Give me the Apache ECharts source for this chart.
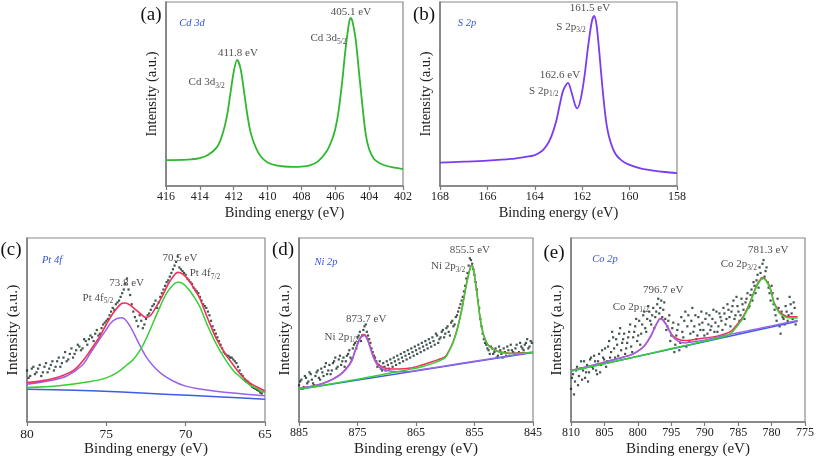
<!DOCTYPE html>
<html><head><meta charset="utf-8">
<script src="https://cdn.jsdelivr.net/npm/echarts@6/dist/echarts.min.js"></script>
<style>html,body{margin:0;padding:0;background:#fff}#c{width:817px;height:458px}</style>
</head><body><div id="c"></div><script>
// ---------- Panel (a) Cd 3d ----------
const aX = [416,415,414.5,414,413.5,413,412.7,412.4,412.2,412.0,411.8,411.6,411.4,411.2,411.0,410.7,410.4,410,409.5,409,408.5,408,407.5,407,406.5,406.2,406,405.8,405.6,405.4,405.2,405.1,405.0,404.8,404.6,404.4,404.2,404,403.7,403.4,403,402.5,402];
const aY = [14.1,14.2,14.5,15.2,17,21,27,38,50,62,68.5,64,52,39,29,21,16,12.8,11.2,10.6,10.4,10.5,11.2,13.5,19,25,31,41,56,74,88,91.3,90,80,62,44,28,20,14.5,12.5,11,10,9.2];
// ---------- Panel (b) S 2p ----------
const bX = [168,167,166,165,164.5,164,163.7,163.5,163.3,163.1,162.95,162.8,162.6,162.45,162.3,162.2,162.05,161.9,161.75,161.6,161.5,161.4,161.28,161.15,161.0,160.85,160.6,160.3,160,159.5,159,158.5,158];
const bY = [12.7,13.2,13.8,14.7,15.6,16.8,19,22,27,35,44,52,56,51,44,42.2,48,60,76,89,92.4,88,73,54,36,26,17.5,13.5,11.5,9.5,8.4,7.6,7.0];
// ---------- Panel (c) Pt 4f ----------
const cBaseX = [80,77,74,71,68,65];
const cBaseY = [17.8,17.3,16.3,15.0,13.7,12.4];
const cPurX = [80,78.5,77.5,76.5,76,75.5,75.1,74.6,74.0,73.5,73,72.5,72,71.5,70.8,70,69,67,65];
const cPurY = [20.5,22.5,25,31,37.5,44,49,54.8,56.6,52,43.5,35.5,30,26,22.3,19.5,17.8,15.7,14.2];
const cGreX = [80,78,76,75,74.3,73.7,73.3,72.8,72.4,72,71.6,71.2,70.8,70.5,70.2,69.8,69.4,69.1,68.6,68.05,67.5,67,66.5,66,65.5,65];
const cGreY = [18.7,19.7,22,24,27,31,34,40,47,55,63,70,74.5,75.9,75.3,72,67,62.5,52,42,34,28,24,20.5,18,16];
const cRedX = [80,79,78,77,76.5,76,75.4,75,74.5,74,73.8,73.5,73,72.5,72.2,71.83,71.5,71.1,70.8,70.5,70.2,69.8,69.4,69.1,68.6,68.05,67.5,67,66.5,66,65.5,65];
const cRedY = [21.4,22.5,24.5,28.5,33,39,46.7,53,60,64.5,64.7,63.5,60,56.8,58,63,68,75,79,81.3,80.5,77,71.5,67,56,45,37,31,25.5,21.5,19,16.9];
const cDotX = [80.0,79.8,79.6,79.4,79.2,79.0,78.8,78.6,78.4,78.2,78.0,77.8,77.6,77.4,77.2,77.0,76.8,76.6,76.4,76.2,76.0,75.8,75.6,75.4,75.2,75.0,74.8,74.6,74.4,74.2,74.0,73.8,73.6,73.4,73.2,73.0,72.8,72.6,72.4,72.2,72.0,71.8,71.6,71.4,71.2,71.0,70.8,70.6,70.4,70.2,70.0,69.8,69.6,69.4,69.2,69.0,68.8,68.6,68.4,68.2,68.0,67.8,67.6,67.4,67.2,67.0,66.8,66.6,66.4,66.2,66.0,65.8,65.6,65.4,65.2];
const cDotY = [28,25,30,27,31,27,32,29,33,30,35,32,38,34,40,37,42,39,45,42,47,44,50,48,53,55,58,62,64,66,70,75,72,64,57,52,55,53,58,61,64,62,68,72,76,79,83,87,84,82,80,77,75,72,70,66,63,60,55,50,46,42,38,36,35,34,32,28,25,22,21,19,18,17,15.5];
const cDot2 = [[79.9,24],[79.7,29],[79.5,26],[79.3,29],[79.1,25],[78.9,30],[78.7,27],[78.5,31],[78.3,28],[78.1,33],[77.9,30],[77.7,35],[77.5,33],[77.3,37],[77.1,35],[76.9,39],[76.7,41],[76.5,40],[76.3,44],[76.1,45],[75.9,46],[75.7,48],[75.5,47],[75.3,51],[75.1,54],[74.9,56],[74.7,60],[74.5,61],[74.3,65],[74.1,68],[73.9,72],[73.7,78],[73.5,69],[73.3,60],[73.1,55],[72.9,58],[72.7,51],[72.5,56],[72.3,59],[72.1,63],[71.9,66],[71.7,65],[71.5,70],[71.3,74],[71.1,77],[70.9,81],[70.7,85],[70.5,90],[70.3,83],[70.1,81],[69.9,78],[69.7,76],[69.5,73],[69.3,71],[69.1,68],[68.9,64],[68.7,62],[68.5,58],[68.3,52],[68.1,48],[67.9,44],[67.7,40],[67.5,37],[67.3,36],[67.1,35],[66.9,33],[66.7,30],[66.5,26],[66.3,23],[66.1,22],[65.9,20],[65.7,18.5],[65.5,17.5],[65.3,16]];
// ---------- Panel (d) Ni 2p ----------
const dBaseX = [885,845];
const dBaseY = [17.8,37.7];
const dPurX = [885,882,880,878,877,876,875.5,875,874.5,873.9,873.5,873,872.5,872,871.5,871,870,868,866,864,860,855,850,845];
const dPurY = [18.2,20,22,25.5,28.5,33,37.5,42,45.5,47,46,42,37,33,30.5,29.2,28,27.3,27.5,28.5,30.5,33,35.5,38];
const dRedX = [885,882,880,878,877,876,875.5,875,874.5,873.9,873.5,873,872.5,872,871.5,871,870,868,866,864,862,860,859.5,859,858.5,858,857.5,857,856.5,856,855.7,855.5,855.2,854.9,854.5,854.1,853.7,853.3,852.8,852.3,851.5,850.5,849,847,845];
const dRedY = [18.2,20,22.2,25.8,28.8,33.4,38,42.5,46,47.5,46.5,42.6,37.7,33.8,31.5,30.3,29.1,28.8,29.3,31,33,35.5,38,41,45,50,56.5,64,73,80.5,84,85.3,83.5,77.5,68,58,50.5,46,42.5,40.8,39,38,37.4,37.6,37.8];
const dGreX = [885,875,870,866,864,862,860,859.5,859,858.5,858,857.5,857,856.5,856,855.7,855.5,855.2,854.9,854.5,854.1,853.7,853.3,852.8,852.3,851.5,850.5,849,847,845];
const dGreY = [17.8,23.2,26.2,28.6,30,32,35,37.5,40.6,44.6,49.6,56.2,63.8,72.8,80.3,83.8,85.1,83.3,77.3,67.8,57.8,50.3,45.8,42.3,40.6,38.8,37.8,37.2,37.4,37.7];
const dDotX = [885.0,884.6,884.2,883.8,883.4,883.0,882.6,882.2,881.8,881.4,881.0,880.6,880.2,879.8,879.4,879.0,878.6,878.2,877.8,877.4,877.0,876.6,876.2,875.8,875.4,875.0,874.6,874.2,873.8,873.4,873.0,872.6,872.2,871.8,871.4,871.0,870.6,870.2,869.8,869.4,869.0,868.6,868.2,867.8,867.4,867.0,866.6,866.2,865.8,865.4,865.0,864.6,864.2,863.8,863.4,863.0,862.6,862.2,861.8,861.4,861.0,860.6,860.2,859.8,859.4,859.0,858.6,858.2,857.8,857.4,857.0,856.6,856.2,855.8,855.4,855.0,854.6,854.2,853.8,853.4,853.0,852.6,852.2,851.8,851.4,851.0,850.6,850.2,849.8,849.4,849.0,848.6,848.2,847.8,847.4,847.0,846.6,846.2,845.8,845.4];
const dDotY = [20,23,19,24,22,26,21,25,28,23,27,30,26,31,28,33,29,34,31,35,33,37,35,40,43,46,49,47,52,49,45,40,36,33,31,29,32,28,31,34,30,33,36,32,35,38,34,37,40,36,39,42,38,41,44,40,43,46,42,47,45,49,46,51,49,54,52,57,60,64,68,74,81,89,86,80,72,62,52,45,42,39,41,37,40,36,39,35,38,41,36,39,37,42,38,41,39,43,40,44];
const dDot2 = [[884.8,22],[884.4,18],[884.0,25],[883.6,21],[883.2,27],[882.8,23],[882.4,20],[882.0,27],[881.6,24],[881.2,29],[880.8,25],[880.4,32],[880.0,28],[879.6,26],[879.2,32],[878.8,35],[878.4,30],[878.0,36],[877.6,33],[877.2,30],[876.8,36],[876.4,39],[876.0,34],[875.6,42],[875.2,40],[874.8,47],[874.4,44],[874.0,50],[873.6,53],[873.2,47],[872.8,43],[872.4,38],[872.0,35],[871.6,30],[871.2,33],[870.8,28],[870.4,30],[870.0,33],[869.6,29],[869.2,32],[868.8,35],[868.4,31],[868.0,34],[867.6,37],[867.2,33],[866.8,36],[866.4,39],[866.0,35],[865.6,38],[865.2,41],[864.8,37],[864.4,40],[864.0,43],[863.6,39],[863.2,42],[862.8,45],[862.4,41],[862.0,44],[861.6,48],[861.2,43],[860.8,46],[860.4,50],[860.0,48],[859.6,52],[859.2,47],[858.8,55],[858.4,53],[858.0,58],[857.6,62],[857.2,66],[856.8,71],[856.4,78],[856.0,85],[855.6,88],[855.2,83],[854.8,76],[854.4,66],[854.0,56],[853.6,48],[853.2,43],[852.8,40],[852.4,37],[852.0,40],[851.6,38],[851.2,35],[850.8,41],[850.4,37],[850.0,40],[849.6,36],[849.2,39],[848.8,42],[848.4,38],[848.0,40],[847.6,37],[847.2,43],[846.8,40],[846.4,42],[846.0,45],[845.6,41],[845.2,43]];
// ---------- Panel (e) Co 2p ----------
const eBaseX = [810,776.1];
const eBaseY = [27.7,54.8];
const ePurX = [810,806,803,801,800,799,798.2,797.5,797,796.7,796.3,795.8,795.3,794.8,794,793,792,790,787,785,783,781,779,776.1];
const ePurY = [28,31.5,34.5,36.5,38.5,41.5,46,51,54.5,56,55.5,53,49.5,46.5,44,43,43.5,44.5,47,48.5,50,51.5,53,55.2];
const eRedX = [810,806,803,801,800,799,798,797.5,797,796.7,796.3,795.8,795.3,794.8,794,793,792,790,788,787,786,785.4,784.5,783.9,783.3,782.7,782.2,781.7,781.3,780.9,780.4,780,779.7,779.2,778.7,778,777.5,776.1];
const eRedY = [28,31.5,34.5,36.5,38.5,41.5,47,51.2,54.7,56.2,55.8,53.3,50,47,45,44.3,44.6,45.6,46.8,47.8,49.5,51.9,56,59.8,64.5,70.1,74.5,77.3,78.6,77.5,74.6,70.5,65.6,62,59.3,57.8,57.2,57.2];
const eGreX = [810,800,795,792,790,788,787,786,785.4,784.5,783.9,783.3,782.7,782.2,781.7,781.3,780.9,780.4,780,779.7,779.2,778.7,778,777.5,776.1];
const eGreY = [27.7,35.7,39.9,42.2,44,45.6,46.6,48.4,50.9,55.2,59,63.8,69.5,74,76.8,78.1,77,74.1,70,65.1,61.4,58.7,57.2,56.6,56.5];
const eDotX = [810.0,809.7,809.4,809.1,808.8,808.5,808.2,807.9,807.6,807.3,807.0,806.7,806.4,806.1,805.8,805.5,805.2,804.9,804.6,804.3,804.0,803.7,803.4,803.1,802.8,802.5,802.2,801.9,801.6,801.3,801.0,800.7,800.4,800.1,799.8,799.5,799.2,798.9,798.6,798.3,798.0,797.7,797.4,797.1,796.8,796.5,796.2,795.9,795.6,795.3,795.0,794.7,794.4,794.1,793.8,793.5,793.2,792.9,792.6,792.3,792.0,791.7,791.4,791.1,790.8,790.5,790.2,789.9,789.6,789.3,789.0,788.7,788.4,788.1,787.8,787.5,787.2,786.9,786.6,786.3,786.0,785.7,785.4,785.1,784.8,784.5,784.2,783.9,783.6,783.3,783.0,782.7,782.4,782.1,781.8,781.5,781.2,780.9,780.6,780.3,780.0,779.7,779.4,779.1,778.8,778.5,778.2,777.9,777.6,777.3,777.0,776.7,776.4];
const eDotY = [18,26,22,30,25,33,28,24,31,27,35,29,33,26,37,31,35,40,33,44,38,46,35,42,48,39,45,37,43,49,41,46,52,44,55,48,58,51,56,60,53,62,57,64,59,66,61,56,52,58,47,54,42,50,39,57,46,60,52,44,55,49,58,47,53,60,50,56,48,58,52,61,54,49,59,55,62,53,64,57,60,66,58,63,55,67,61,65,70,63,72,76,70,80,84,78,88,82,76,70,74,64,58,67,52,60,56,63,55,68,59,65,53];
const eDot2 = [[809.85,24],[809.55,15],[809.25,28],[808.95,20],[808.65,29],[808.35,23],[808.05,33],[807.75,27],[807.45,22],[807.15,34],[806.85,30],[806.55,36],[806.25,28],[805.95,33],[805.65,27],[805.35,39],[805.05,34],[804.75,30],[804.45,41],[804.15,35],[803.85,49],[803.55,40],[803.25,45],[802.95,36],[802.65,51],[802.35,43],[802.05,48],[801.75,40],[801.45,46],[801.15,53],[800.85,38],[800.55,49],[800.25,56],[799.95,47],[799.65,42],[799.35,53],[799.05,60],[798.75,49],[798.45,63],[798.15,55],[797.85,58],[797.55,51],[797.25,60],[796.95,67],[796.65,62],[796.35,57],[796.05,65],[795.75,50],[795.45,55],[795.15,44],[794.85,51],[794.55,38],[794.25,47],[793.95,53],[793.65,43],[793.35,49],[793.05,55],[792.75,41],[792.45,58],[792.15,48],[791.85,62],[791.55,52],[791.25,45],[790.95,57],[790.65,50],[790.35,54],[790.05,47],[789.75,59],[789.45,53],[789.15,50],[788.85,56],[788.55,49],[788.25,60],[787.95,52],[787.65,57],[787.35,50],[787.05,59],[786.75,56],[786.45,61],[786.15,52],[785.85,63],[785.55,56],[785.25,68],[784.95,60],[784.65,58],[784.35,64],[784.05,56],[783.75,67],[783.45,62],[783.15,69],[782.85,66],[782.55,74],[782.25,77],[781.95,73],[781.65,81],[781.35,86],[781.05,79],[780.75,84],[780.45,73],[780.15,66],[779.85,70],[779.55,61],[779.25,55],[778.95,62],[778.65,48],[778.35,57],[778.05,53],[777.75,60],[777.45,58],[777.15,64],[776.85,56],[776.55,62]];
// ---------- annotations (data coords) ----------
const annA = [[411.75,72.3,'411.8 eV'],[413.6,56.5,'Cd 3d','3/2'],[405.07,94.6,'405.1 eV'],[406.4,80.4,'Cd 3d','5/2']];
const annB = [[161.67,96.7,'161.5 eV'],[162.47,86.6,'S 2p','3/2'],[162.94,60.3,'162.6 eV'],[163.62,51.8,'S 2p','1/2']];
const annC = [[70.36,89,'70.5 eV'],[68.78,80.9,'Pt 4f','7/2'],[73.72,75.5,'73.8 eV'],[75.53,67.4,'Pt 4f','5/2']];
const annD = [[855.8,93.5,'855.5 eV'],[859.5,84.5,'Ni 2p','3/2'],[873.5,55.7,'873.7 eV'],[877.7,46.3,'Ni 2p','1/2']];
const annE = [[780.5,93.5,'781.3 eV'],[784.9,85.8,'Co 2p','3/2'],[796.2,71.9,'796.7 eV'],[801.05,62.5,'Co 2p','1/2']];

const SERIF = "'Liberation Serif','Times New Roman',serif";
const zip = (x,y) => x.map((v,i)=>[v,y[i]]);
const grids = [
  {left:166, top:2, width:237, height:184},
  {left:440, top:2, width:237, height:184},
  {left:27, top:238, width:238, height:185},
  {left:299, top:238, width:234, height:185},
  {left:571, top:238, width:235, height:185}
].map(g=>Object.assign({show:true, borderColor:'#8a8a8a', borderWidth:1.2, containLabel:false}, g));

const xr = [[402,416,2],[158,168,2],[65,80,5],[845,885,10],[775,810,5]];
const xNames = ['Binding energy (eV)','Binding energy (eV)','Binding energy (eV)','Binding erengy (eV)','Binding energy (eV)'];
const big = [false,false,true,true,true];
const xAxes = xr.map((r,i)=>({
  gridIndex:i, type:'value', inverse:true, min:r[0], max:r[1], interval:r[2],
  name:xNames[i], nameLocation:'middle', nameGap:20,
  nameTextStyle:{fontFamily:SERIF, fontSize: big[i]?15:14.5, color:'#222'},
  axisLine:{show:true, lineStyle:{color:'#7a7a7a', width:1.5}},
  axisTick:{show:true, length:4, lineStyle:{color:'#7a7a7a', width:1.2}},
  axisLabel:{fontFamily:SERIF, fontSize: i===2?13.5:12, color:'#222', margin:5},
  splitLine:{show:false}
}));
const yAxes = grids.map((g,i)=>({
  gridIndex:i, type:'value', min:0, max:100,
  name:'Intensity (a.u.)', nameLocation:'middle', nameGap:6, nameRotate:90,
  nameTextStyle:{fontFamily:SERIF, fontSize: big[i]?15.5:14.5, color:'#222'},
  axisLine:{show:true, lineStyle:{color:'#7a7a7a', width:1.5}},
  axisTick:{show:false}, axisLabel:{show:false}, splitLine:{show:false}
}));

function line(gi, x, y, color, w, z){
  return {type:'line', xAxisIndex:gi, yAxisIndex:gi, data:zip(x,y), showSymbol:false, symbol:'none',
    smooth:0.3, lineStyle:{color:color, width:w}, z:z||3, silent:true, animation:false};
}
function dots(gi, pts){
  return {type:'scatter', xAxisIndex:gi, yAxisIndex:gi, data:pts, symbol:'rect', symbolSize:2.2,
    itemStyle:{color:'#102a1e'}, z:2, silent:true, animation:false};
}
function ann(gi, list){
  return {type:'scatter', xAxisIndex:gi, yAxisIndex:gi, symbolSize:0, silent:true, z:10, animation:false,
    data:list.map(a=>({value:[a[0],a[1]], lab:a[2], sub:a[3]||''})),
    label:{show:true, position:'inside',
      formatter:p=> p.data.sub ? '{t|'+p.data.lab+'}{s|'+p.data.sub+'}' : '{t|'+p.data.lab+'}',
      rich:{t:{fontFamily:SERIF, fontSize:11, color:'#222'},
            s:{fontFamily:SERIF, fontSize:7.5, color:'#222', padding:[7,0,0,0]}}}};
}
const GRN='#33d133', PUR='#9a62ea', RED='#f0305c', BLU='#3b5fe0';
const series = [
  line(0,aX,aY,'#2fb82f',1.8),
  ann(0,annA),
  line(1,bX,bY,'#7a3cf0',1.8),
  ann(1,annB),
  dots(2,zip(cDotX,cDotY)), dots(2,cDot2),
  line(2,cBaseX,cBaseY,BLU,1.5),
  line(2,cPurX,cPurY,PUR,1.5),
  line(2,cGreX,cGreY,GRN,1.5),
  line(2,cRedX,cRedY,RED,1.6),
  ann(2,annC),
  dots(3,zip(dDotX,dDotY)), dots(3,dDot2),
  line(3,dBaseX,dBaseY,BLU,1.5),
  line(3,dRedX,dRedY,RED,1.5),
  line(3,dPurX,dPurY,PUR,1.5),
  line(3,dGreX,dGreY,GRN,1.5),
  ann(3,annD),
  dots(4,zip(eDotX,eDotY)), dots(4,eDot2),
  line(4,eBaseX,eBaseY,BLU,1.5),
  line(4,eRedX,eRedY,RED,1.5),
  line(4,ePurX,ePurY,PUR,1.5),
  line(4,eGreX,eGreY,GRN,1.5),
  ann(4,annE)
];
function txt(x,y,t,font,fill){
  return {type:'text', x:x, y:y, silent:true, z:20,
    style:{text:t, font:font, fill:fill, align:'center', verticalAlign:'middle', textAlign:'center', textVerticalAlign:'middle'}};
}
const LF = '19px '+SERIF, IF = 'italic 10.5px '+SERIF, BLUE_T = '#3355dd';
const graphic = [
  txt(151,15,'(a)',LF,'#111'), txt(192,23,'Cd 3d',IF,BLUE_T),
  txt(424,15,'(b)',LF,'#111'), txt(467,23,'S 2p',IF,BLUE_T),
  txt(11,250,'(c)',LF,'#111'), txt(52,260,'Pt 4f',IF,BLUE_T),
  txt(283,250,'(d)',LF,'#111'), txt(326,262,'Ni 2p',IF,BLUE_T),
  txt(554,253,'(e)',LF,'#111'), txt(605,259,'Co 2p',IF,BLUE_T)
];
const chart = echarts.init(document.getElementById('c'));
chart.setOption({animation:false, backgroundColor:'#fff', grid:grids, xAxis:xAxes, yAxis:yAxes, series:series, graphic:graphic});
</script></body></html>
